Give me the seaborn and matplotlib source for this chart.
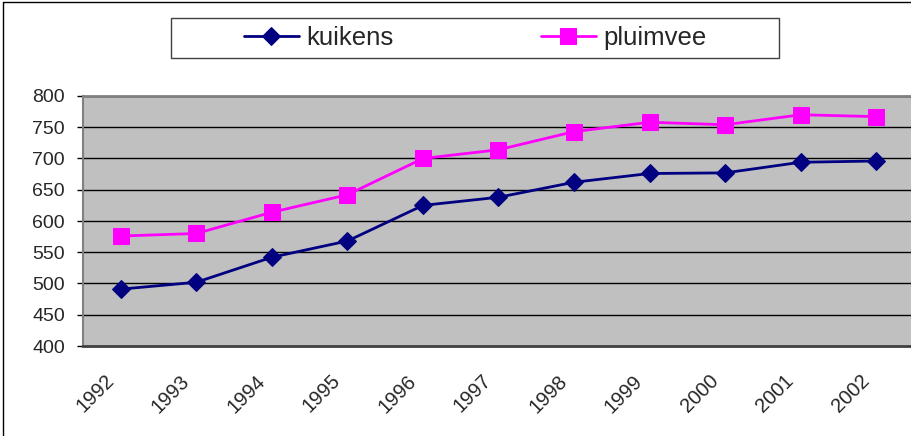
import numpy as np
import pandas as pd
import matplotlib
matplotlib.use("Agg")
import matplotlib.pyplot as plt
import matplotlib.transforms as mtransforms
from matplotlib.patches import Rectangle
from matplotlib.lines import Line2D
import seaborn as sns

years = ['1992', '1993', '1994', '1995', '1996', '1997', '1998', '1999', '2000', '2001', '2002']
kuikens = [491, 502, 542, 568, 625, 638, 662, 676, 677, 694, 696]
pluimvee = [576, 580, 614, 642, 700, 714, 743, 758, 754, 770, 767]
y_ticks = [400, 450, 500, 550, 600, 650, 700, 750, 800]

sns.set_theme(style='white')
plt.rcParams['font.family'] = ['Liberation Sans', 'DejaVu Sans']

df = pd.DataFrame({
    'pos': list(range(len(years))) * 2,
    'value': kuikens + pluimvee,
    'serie': ['kuikens'] * len(years) + ['pluimvee'] * len(years),
})

W, H = 912, 436
fig = plt.figure(figsize=(W / 100, H / 100), dpi=100)
ax = fig.add_axes([83 / W, 1 - 346 / H, 831 / W, 250 / H])
ax.set_facecolor('#C0C0C0')

for y in y_ticks[1:]:
    ax.axhline(y, color='black', lw=1, zorder=1)

sns.lineplot(data=df[df.serie == 'kuikens'], x='pos', y='value', color='#000080', lw=2,
             marker='D', markersize=8.8, markeredgecolor='#000080', label='kuikens', ax=ax, zorder=3)
sns.lineplot(data=df[df.serie == 'pluimvee'], x='pos', y='value', color='#FF00FF', lw=2,
             marker='s', markersize=11, markeredgecolor='#FF00FF', label='pluimvee', ax=ax, zorder=3)

ax.set_xlim(-0.5, len(years) - 0.5)
ax.set_ylim(400, 800)
ax.set_yticks(y_ticks)
ax.set_yticklabels([str(v) for v in y_ticks], fontsize=14)
ax.set_xticks(range(len(years)))
ax.set_xticklabels(years, rotation=45, ha='right', va='center', rotation_mode='anchor', fontsize=14.5)
ax.set_xticks(np.arange(-0.5, len(years), 1), minor=True)
ax.tick_params(axis='x', which='major', length=0, pad=23)
ax.tick_params(axis='x', which='minor', length=4.5, color='black', width=1)
ax.tick_params(axis='y', length=4.5, color='black', width=1, left=True, pad=8.5)
ax.set_xlabel('')
ax.set_ylabel('')

# shift the rotated year labels a little to the left
shift = mtransforms.ScaledTranslation(-10 / 100, 0, fig.dpi_scale_trans)
for lab in ax.get_xticklabels():
    lab.set_transform(lab.get_transform() + shift)

for side in ['top', 'right']:
    ax.spines[side].set_color('#808080')
    ax.spines[side].set_linewidth(2)
ax.spines['left'].set_color('#808080')
ax.spines['left'].set_linewidth(1.5)
ax.spines['bottom'].set_color('#404040')
ax.spines['bottom'].set_linewidth(2)

# legend without frame, frame drawn separately (wide side padding as in the original)
leg = ax.legend(loc='center', bbox_to_anchor=(475 / W, 1 - 38 / H), bbox_transform=fig.transFigure,
                ncol=2, fontsize=18.5, frameon=False, columnspacing=5.75, handlelength=2.15,
                handletextpad=0.27, borderaxespad=0, borderpad=0)
fig.patches.append(Rectangle((171 / W, 1 - 58 / H), 608 / W, 40 / H, transform=fig.transFigure,
                             fill=False, edgecolor='#404040', lw=1))

# chart area border (left and top visible)
fig.lines.append(Line2D([3 / W, 3 / W], [0, 1 - 2 / H], transform=fig.transFigure, color='black', lw=1))
fig.lines.append(Line2D([3 / W, 1], [1 - 2 / H, 1 - 2 / H], transform=fig.transFigure, color='black', lw=1))

fig.savefig('out.png', dpi=100)
